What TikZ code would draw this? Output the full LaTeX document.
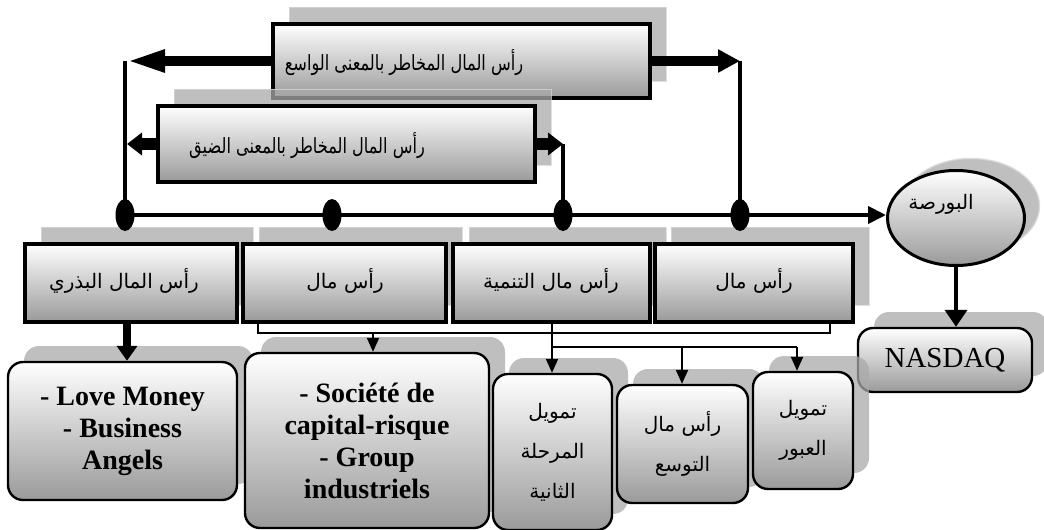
\documentclass[tikz,border=0pt]{standalone}
\usepackage{fontspec}
\setmainfont{Liberation Serif}
\newfontfamily\arabicfont[Script=Arabic]{DejaVu Sans}
\newfontfamily\arabicnarrow[Script=Arabic,FakeStretch=0.77]{DejaVu Sans}
\TeXXeTstate=1
\usetikzlibrary{arrows.meta,shapes.geometric,shadows}
\definecolor{shd}{HTML}{AAAAAA}
\definecolor{shdline}{HTML}{D8D8D8}
\definecolor{boxbot}{HTML}{9A9A9A}
\begin{document}
\begin{tikzpicture}[x=1pt,y=-1pt,
  gradbox/.style={draw=black, top color=white, bottom color=boxbot, inner sep=0pt, align=center},
  rbox/.style={gradbox, line width=3.5pt,
    general shadow={fill=shd, draw=shdline, line width=1pt, opacity=0.75, shadow xshift=16pt, shadow yshift=17pt}},
  rrbox/.style={gradbox, line width=2.4pt, rounded corners=15pt,
    general shadow={fill=shd, draw=none, opacity=0.75, shadow xshift=16pt, shadow yshift=16pt}},
  ebox/.style={gradbox, ellipse, line width=3pt,
    general shadow={fill=shd, draw=shdline, line width=1.5pt, opacity=0.75, shadow xshift=15pt, shadow yshift=12pt}},
  atext/.style={font=\arabicfont\fontsize{20}{40}\selectfont, align=center},
  ntext/.style={font=\arabicnarrow\fontsize{21}{40}\selectfont, align=center},
  ltext/.style={font=\bfseries\fontsize{28}{32}\selectfont, align=center},
  dot/.style={ellipse, fill=black, minimum width=19pt, minimum height=32pt, inner sep=0pt},
  vline/.style={line width=4pt},
  thinline/.style={line width=2pt},
  arrTL/.style={line width=10pt, -{Triangle[length=40pt,width=20pt]}},
  arrTR/.style={line width=10pt, -{Triangle[length=22pt,width=22pt]}},
  arrN/.style={line width=12pt, -{Triangle[length=15pt,width=22pt]}},
  arrMain/.style={line width=4pt, -{Triangle[length=18pt,width=17pt]}},
  arrThick/.style={line width=8pt, -{Triangle[length=15pt,width=20pt]}},
  arrMed/.style={line width=4pt, -{Triangle[length=17pt,width=22pt]}},
  arrSmall/.style={line width=2pt, -{Triangle[length=14pt,width=12pt]}}
]
\fill[white] (0,0) rectangle (1044,530);
\useasboundingbox (0,0) rectangle (1044,530);

% top boxes
\node[rbox, minimum width=377pt, minimum height=74pt] (tw) at (461.5,61) {};
\node[ntext] (twt) at (404,63) {\beginR رأس المال المخاطر بالمعنى الواسع\endR};
\node[rbox, minimum width=377pt, minimum height=76pt] (tn) at (346.5,144) {};
\node[ntext] (tnt) at (307,146) {\beginR رأس المال المخاطر بالمعنى الضيق\endR};

% row boxes
\node[rbox, minimum width=212pt, minimum height=78pt] (r1) at (131,283) {};
\node[atext] (r1t) at (124,281) {\beginR رأس المال البذري\endR};
\node[rbox, minimum width=203pt, minimum height=78pt] (r2) at (344.5,283) {};
\node[atext] (r2t) at (345,281) {\beginR رأس مال\endR};
\node[rbox, minimum width=197pt, minimum height=78pt] (r3) at (551.5,283) {};
\node[atext] (r3t) at (551,281) {\beginR رأس مال التنمية\endR};
\node[rbox, minimum width=198pt, minimum height=78pt] (r4) at (754,283) {};
\node[atext] (r4t) at (754,281) {\beginR رأس مال\endR};

% exchange
\node[ebox, minimum width=137pt, minimum height=95pt] (bourse) at (956,218) {};
\node[atext] (bourset) at (941,204) {\beginR البورصة\endR};
\node[rrbox, minimum width=174pt, minimum height=64pt, font=\fontsize{29}{32}\selectfont] (nasdaq) at (945,360) {NASDAQ};

% bottom boxes
\node[rrbox, minimum width=229pt, minimum height=138pt, ltext] (b1) at (122.5,431) {- Love Money\\- Business\\Angels};
\node[rrbox, minimum width=244pt, minimum height=175pt, ltext] (b2) at (367,440.5) {- Société de\\capital-risque\\- Group\\industriels};
\node[rrbox, minimum width=119pt, minimum height=156pt, atext] (b3) at (552.5,452) {\beginR تمويل\endR\\\beginR المرحلة\endR\\\beginR الثانية\endR};
\node[rrbox, minimum width=131pt, minimum height=118pt, atext] (b4) at (682.5,444) {\beginR رأس مال\endR\\\beginR التوسع\endR};
\node[rrbox, minimum width=100pt, minimum height=117pt, atext] (b5) at (803,430.5) {\beginR تمويل\endR\\\beginR العبور\endR};

% dots on the main line
\node[dot] (d1) at (125,215) {};
\node[dot] (d2) at (332,215) {};
\node[dot] (d3) at (563,215) {};
\node[dot] (d4) at (740,215) {};

% main line to exchange
\draw[arrMain] (d1.center) -- (d1.center -| bourse.west);

% arrows from top boxes
\coordinate (wl) at (125,61);
\coordinate (wr) at (740,61);
\draw[arrTL] (tw.west) -- (wl);
\draw[arrTR] (tw.east) -- (wr);
\draw[vline] (wl) -- (d1.center);
\draw[vline] (wr) -- (d4.center);
\coordinate (nl) at (127,144);
\coordinate (nr) at (563,144);
\draw[arrN] (tn.west) -- (nl);
\draw[arrN] (tn.east) -- (nr);
\draw[vline] (nr) -- (d3.center);

% exchange to NASDAQ
\draw[arrMed] (bourse.south) -- (bourse.south |- nasdaq.north);

% seed capital to bottom
\coordinate (s1) at (127,322);
\draw[arrThick] (s1) -- (s1 |- b1.north);

% bracket
\coordinate (bl) at (258,333);
\coordinate (br) at (830,333);
\draw[thinline] (bl |- r2.south) -- (bl) -- (br) -- (br |- r4.south);
\coordinate (a2) at (373,333);
\draw[arrSmall] (a2) -- (a2 |- b2.north);

% development capital
\coordinate (c3) at (552,347);
\coordinate (c4) at (682,347);
\coordinate (c5) at (797,347);
\draw[thinline] (c3 |- r3.south) -- (c3) -- (c5);
\draw[arrSmall] (c3) -- (c3 |- b3.north);
\draw[arrSmall] (c4) -- (c4 |- b4.north);
\draw[arrSmall] (c5) -- (c5 |- b5.north);
\end{tikzpicture}
\end{document}
